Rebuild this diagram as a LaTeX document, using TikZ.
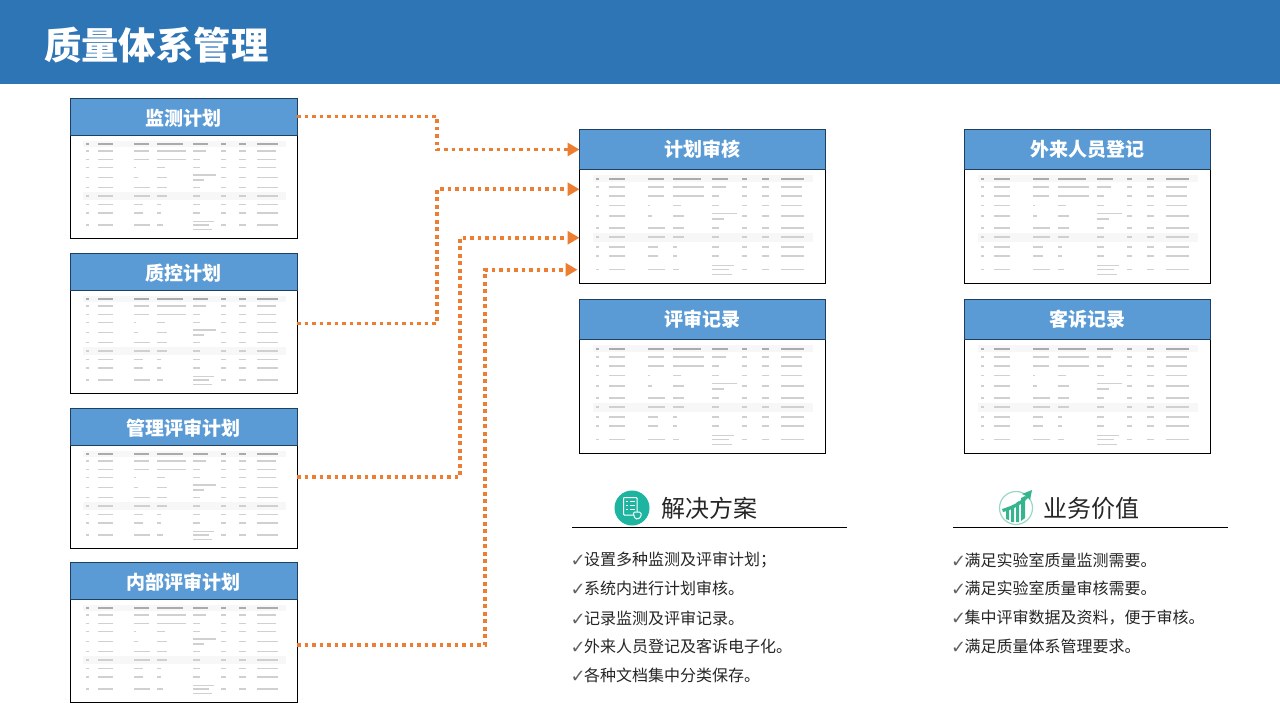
\documentclass[tikz,border=0pt]{standalone}
\usepackage{fontspec}
\setmainfont{Noto Sans CJK SC}
\newfontfamily\dvu{DejaVu Sans}
\usetikzlibrary{arrows.meta,calc}
\definecolor{bandblue}{HTML}{2E75B6}
\definecolor{headblue}{HTML}{5B9BD5}
\definecolor{edgeblue}{HTML}{1F3F5F}
\definecolor{flow}{HTML}{ED7D31}
\definecolor{tealfill}{HTML}{1DB5A0}
\definecolor{greenfill}{HTML}{36B48E}
\definecolor{greenring}{HTML}{9AD8C6}
\definecolor{rowink}{HTML}{D0D0D0}
\definecolor{headink}{HTML}{ABABAB}
\definecolor{rowband}{HTML}{F7F7F7}
\tikzset{
  x=1pt,y=-1pt,
  headbox/.style={draw=edgeblue,line width=1pt,fill=headblue,text=white,font=\fontsize{19}{19}\selectfont\bfseries,inner sep=0pt,outer sep=0pt,anchor=north west,minimum height=#1},
  headbox/.default=37pt,
  bodybox/.style={draw=black,line width=1pt,fill=white,inner sep=0pt,outer sep=0pt,anchor=north west},
  flowline/.style={draw=flow,line width=3.6pt,dash pattern=on 3.7pt off 3.8pt,rounded corners=0pt,-{Triangle[length=12pt,width=13pt,fill=flow]}},
  listitem/.style={anchor=west,inner sep=0pt,text=black!85,font=\fontsize{16}{16}\selectfont},
  sectitle/.style={anchor=west,inner sep=0pt,text=black!85,font=\fontsize{24}{24}\selectfont},
  rule/.style={draw=black,line width=1pt},
}
\newcommand\tbar[4][rowink]{\fill[#1] (#2,#4-.7) rectangle (#3,#4+.7);}
\newcommand\chk{\makebox[13.5pt][l]{\raisebox{-1pt}{\fontsize{18}{18}\dvu\color{black!62}✓}}}
\newcommand\hdn[1]{\raisebox{-1.8pt}[\height][\depth]{#1}}
\newcommand\thumb[4]{%
 \begin{scope}[shift={(#1,#2)},xscale=#3/227,yscale=#4/103]
  \fill[rowband] (12,5.5) rectangle (215,12);
  \fill[rowband] (12,57) rectangle (215,65);
  \foreach \cx/\cy in {15/18,27/42,63/78,86/112,122/137,150/155,168/175,186/207}{\tbar[headink]{\cx}{\cy}{9}}
  \foreach \ry/\ca/\cb/\cc/\cd in {16/78/115/135/205,24.3/78/115/129/205,32.7/65/94/129/205,52.7/79/96/129/207,61/79/96/129/207,69.7/72/90/129/207,78/72/90/129/207,42.3/67/96/145/207,90/79/92/143/207}{
    \tbar{15}{18}{\ry}\tbar{27}{42}{\ry}\tbar{63}{\ca}{\ry}\tbar{86}{\cb}{\ry}
    \tbar{150}{155}{\ry}\tbar{168}{175}{\ry}\tbar{186}{\cd}{\ry}
  }
  \foreach \ry/\cc in {16/135,24.3/129,32.7/129,52.7/129,61/129,69.7/129,78/129,39.8/145,44.8/133,86.5/143,90/138,94.5/141}{\tbar{122}{\cc}{\ry}}
 \end{scope}}
\begin{document}
\begin{tikzpicture}
\useasboundingbox (0,0) rectangle (1280,720);
\fill[white] (0,0) rectangle (1280,720);
\node[fill=bandblue,inner sep=0pt,outer sep=0pt,minimum width=1280pt,minimum height=84pt,anchor=north west] (band) at (0,0) {};
\node[anchor=west,inner sep=0pt,text=white,font=\fontsize{37.4}{37.4}\selectfont\bfseries] (title) at (44,45) {质量体系管理};

% left column
\node[bodybox,minimum width=226.5pt,minimum height=103pt] (b1) at (70.5,135) {};
\node[headbox,minimum width=226.5pt] (h1) at (70.5,98) {\hdn{监测计划}};
\thumb{70.5}{135}{227}{103}
\node[bodybox,minimum width=226.5pt,minimum height=103pt] (b2) at (70.5,290) {};
\node[headbox,minimum width=226.5pt] (h2) at (70.5,253) {\hdn{质控计划}};
\thumb{70.5}{290}{227}{103}
\node[bodybox,minimum width=226.5pt,minimum height=103pt] (b3) at (70.5,445) {};
\node[headbox,minimum width=226.5pt] (h3) at (70.5,408) {\hdn{管理评审计划}};
\thumb{70.5}{445}{227}{103}
\node[bodybox,minimum width=226.5pt,minimum height=103pt] (b4) at (70.5,599) {};
\node[headbox,minimum width=226.5pt] (h4) at (70.5,562) {\hdn{内部评审计划}};
\thumb{70.5}{599}{227}{103}

% middle column
\node[bodybox,minimum width=245.5pt,minimum height=114.5pt] (m1) at (579.5,169) {};
\node[headbox=40pt,minimum width=245.5pt] (mh1) at (579.5,129.5) {计划审核};
\thumb{579.5}{169}{246}{115}
\node[bodybox,minimum width=245.5pt,minimum height=114.5pt] (m2) at (579.5,339) {};
\node[headbox=40pt,minimum width=245.5pt] (mh2) at (579.5,299.5) {评审记录};
\thumb{579.5}{339}{246}{115}

% right column
\node[bodybox,minimum width=245.5pt,minimum height=114.5pt] (r1) at (964.5,169) {};
\node[headbox=40pt,minimum width=245.5pt] (rh1) at (964.5,129.5) {外来人员登记};
\thumb{964.5}{169}{246}{115}
\node[bodybox,minimum width=245.5pt,minimum height=114.5pt] (r2) at (964.5,339) {};
\node[headbox=40pt,minimum width=245.5pt] (rh2) at (964.5,299.5) {客诉记录};
\thumb{964.5}{339}{246}{115}

% connectors
\draw[flowline] (h1.east) -- ++(140,0) |- (mh1.west);
\draw[flowline] ([yshift=18pt]b2.east) -- ++(140,0) |- ([yshift=37pt]m1.west);
\draw[flowline] ([yshift=19.5pt]b3.east) -- ++(163,0) |- ([yshift=-11.5pt]m1.west);
\draw[flowline] ([yshift=5.5pt]b4.east) -- ++(188,0) |- ([yshift=-43.5pt,xshift=-2pt]m1.west);

% section: solution
\fill[tealfill] (632,508) circle (17.5);
\draw[white,line width=1pt,rounded corners=.8pt] (623.5,497.5) rectangle (637,515);
\foreach \ly in {501,505,509}{
  \draw[white,line width=.9pt] (626,\ly) -- (628,\ly);
  \draw[white,line width=.9pt] (630,\ly) -- (635,\ly);
}
\draw[white,fill=tealfill,line width=1pt,rounded corners=1.5pt] (633,512) -- (641,512) -- (641,517) -- (638,519) -- (635,519) -- cycle;
\node[sectitle] (soltitle) at (661,508) {解决方案};
\coordinate (sola) at (572,527);
\coordinate (solb) at (847,527);
\draw[rule] (sola) -- (solb);
\node[listitem] (s1) at (570.5,560) {\chk 设置多种监测及评审计划；};
\node[listitem] (s2) at (570.5,588.5) {\chk 系统内进行计划审核。};
\node[listitem] (s3) at (570.5,618) {\chk 记录监测及评审记录。};
\node[listitem] (s4) at (570.5,646.5) {\chk 外来人员登记及客诉电子化。};
\node[listitem] (s5) at (570.5,675) {\chk 各种文档集中分类保存。};

% section: value
\draw[greenring,line width=1.2pt] (1016,508) circle (16.5);
\fill[greenfill] (1006,510) -- (1009,510) -- (1009,520) -- (1006,519) -- cycle;
\fill[greenfill] (1011,507) -- (1014,505) -- (1014,522) -- (1011,522) -- cycle;
\fill[greenfill] (1016,503) -- (1019,501) -- (1019,522) -- (1016,522) -- cycle;
\fill[greenfill] (1021,498) -- (1025,496) -- (1025,518) -- (1021,521) -- cycle;
\fill[greenfill] (1002,509) .. controls (1012,506) and (1020,502) .. (1026,496) -- (1022,494) -- (1032,490) -- (1030,500) -- (1028,498) .. controls (1021,505) and (1012,510) .. (1003,512) -- cycle;
\node[sectitle] (valtitle) at (1043,508) {业务价值};
\coordinate (vala) at (953,527);
\coordinate (valb) at (1228,527);
\draw[rule] (vala) -- (valb);
\node[listitem] (v1) at (951,560) {\chk 满足实验室质量监测需要。};
\node[listitem] (v2) at (951,588.5) {\chk 满足实验室质量审核需要。};
\node[listitem] (v3) at (951,618) {\chk 集中评审数据及资料，便于审核。};
\node[listitem] (v4) at (951,646.5) {\chk 满足质量体系管理要求。};
\end{tikzpicture}
\end{document}
